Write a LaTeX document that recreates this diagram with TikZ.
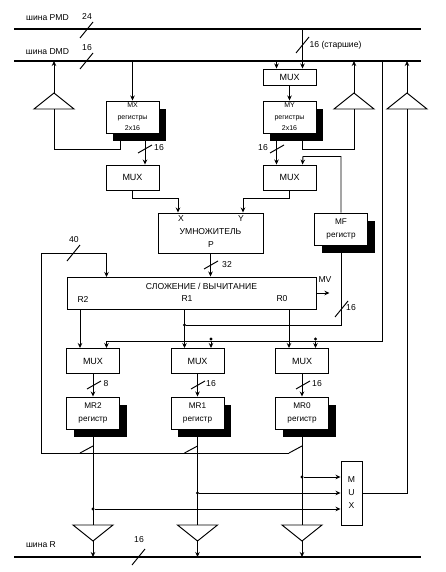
\documentclass[tikz,border=0pt]{standalone}
\usepackage{fontspec}
\setmainfont{Liberation Sans}
\usetikzlibrary{arrows.meta,shadows}

\tikzset{
  >={Stealth[length=5pt,width=4.5pt]},
  wire/.style={line width=.95pt},
  busline/.style={line width=2pt},
  slashmark/.style={line width=.95pt},
  muxbox/.style={draw,line width=.95pt,fill=white,inner sep=0pt,minimum width=53,minimum height=25,font=\fontsize{9}{10}\selectfont},
  regbox/.style={draw,line width=.95pt,fill=white,inner sep=0pt,minimum width=53,minimum height=32,align=center,
    general shadow={fill=black,shadow xshift=7pt,shadow yshift=-8pt}},
  lab/.style={inner sep=0pt,font=\fontsize{8.6}{10}\selectfont},
  dotmark/.style={circle,fill=black,inner sep=0pt,minimum size=3.4pt},
}

\begin{document}
\begin{tikzpicture}[x=1pt,y=-1pt]
  \useasboundingbox (0,0) rectangle (445,572);
  \coordinate (pmdL) at (14,29);
  \coordinate (pmdR) at (421,29);
  \coordinate (dmdL) at (14,61);
  \coordinate (dmdR) at (421,61);
  \coordinate (busrL) at (14,557);
  \coordinate (busrR) at (421,557);
  \draw[busline] (pmdL) -- (pmdR);
  \draw[busline] (dmdL) -- (dmdR);
  \draw[busline] (busrL) -- (busrR);

  % registers
  \foreach \name/\x/\y/\first/\second in {mx/132.5/117/MX/регистры,my/289.5/117/MY/регистры} {
    \node[regbox,font=\fontsize{7}{11.5}\selectfont] (\name) at (\x,\y) {\first\\\second\\2x16};
  }
  \foreach \name/\x/\y/\first in {mf/341/229/MF,mrtwo/93/413/MR2,mrone/197.5/413/MR1,mrzero/302/413/MR0} {
    \node[regbox,font=\fontsize{8.2}{13}\selectfont] (\name) at (\x,\y) {\first\\регистр};
  }

  % mux
  \node[muxbox,minimum height=16] (muxtop) at (289.5,77) {MUX};
  \foreach \name/\x/\y in {muxx/132.5/177.5,muxy/289.5/177.5,muxa/93/361,muxb/197.5/361,muxc/302/361} {
    \node[muxbox] (\name) at (\x,\y) {MUX};
  }
  \node[draw,line width=.95pt,fill=white,inner sep=0pt,minimum width=21,minimum height=64,align=center,
    font=\fontsize{8.6}{13}\selectfont] (muxout) at (351.5,493) {M\\U\\X};

  % multiplier and adder
  \node[draw,line width=.95pt,inner sep=0pt,minimum width=105,minimum height=40] (mult) at (210.5,233) {};
  \node[draw,line width=.95pt,inner sep=0pt,minimum width=249,minimum height=32] (addsub) at (191.5,293) {};
  \foreach \name/\x/\y/\txt in {lx/181/219/X,ly/241/219/Y,lmul/210.5/232/УМНОЖИТЕЛЬ,lp/211/245/P,
    lrtwo/83/299/R2,lrone/187/299/R1,lrzero/282/299/R0,lmv/325/280/MV,
    lpmd/47.5/17.5/шина PMD,ldmd/47.5/52/шина DMD,lbusr/41/544.5/шина R,
    ltf/87/16/24,lsa/87/48/16,lsb/335.5/45/16 (старшие),lsc/159/148/16,lsd/263/148/16,
    lse/227/265/32,lsf/74/240/40,lsg/351/308/16,lsh/106/384/8,lsi/211/384/16,lsj/317/384/16,lsk/139/540/16} {
    \node[lab] (\name) at (\x,\y) {\txt};
  }
  \node[lab] (lsum) at (201.5,286) {СЛОЖЕНИЕ / ВЫЧИТАНИЕ};

  % tristate buffers
  \foreach \name/\x in {upa/54,upb/354,upc/407} {
    \coordinate (\name) at (\x,93);
    \coordinate (\name-base) at (\x,109);
    \draw[wire] (\name) -- ++(20,16) -- ++(-40,0) -- cycle;
  }
  \foreach \name/\x in {dna/93,dnb/197.5,dnc/302} {
    \coordinate (\name) at (\x,541);
    \coordinate (\name-base) at (\x,525);
    \draw[wire] (\name) -- ++(20,-16) -- ++(-40,0) -- cycle;
  }
  \draw[wire,->] (upa) -- (upa |- dmdL);
  \draw[wire,->] (upb) -- (upb |- dmdL);
  \draw[wire,->] (upc) -- (upc |- dmdL);
  \foreach \name in {dna,dnb,dnc} {
    \draw[wire,->] (\name) -- (\name |- busrL);
  }

  % top part
  \draw[wire,->] (mx.north |- dmdL) -- (mx.north);
  \draw[wire] ([xshift=-12.5pt]mx.south) -- ++(0,16) -| (upa-base);
  \draw[wire,->] ([xshift=12.5pt]mx.south) -- ([xshift=12.5pt]muxx.north);
  \draw[wire,->] ([xshift=-13pt]muxtop.north |- dmdL) -- ([xshift=-13pt]muxtop.north);
  \draw[wire,->] ([xshift=13pt]muxtop.north |- pmdL) -- ([xshift=13pt]muxtop.north);
  \draw[wire,->] (muxtop) -- (my);
  \draw[wire] ([xshift=13pt]my.south) -- ++(0,16) -| (upb-base);
  \draw[wire,->] ([xshift=-13pt]my.south) -- ([xshift=-13pt]muxy.north);
  \draw[wire,->] (mf.north) |- ++(-38,-56) -- ([xshift=13pt]muxy.north);
  \draw[wire,->] (muxx.south) -- ++(0,8) -| ([xshift=-32.5pt]mult.north);
  \draw[wire,->] (muxy.south) -- ++(0,8) -| ([xshift=32.5pt]mult.north);
  \draw[wire,->] (mult.south) -- (mult.south |- addsub.north);
  \draw[wire,->] (addsub.east |- 0,293) -- ++(13,0);

  % adder outputs
  \node[dotmark] (dotrone) at (184.5,325) {};
  \draw[wire,->] ([xshift=-13pt]addsub.south -| muxa) -- ([xshift=-13pt]muxa.north);
  \draw[wire,->] ([xshift=-13pt]addsub.south -| muxb) -- ([xshift=-13pt]muxb.north);
  \draw[wire,->] ([xshift=-13pt]addsub.south -| muxc) -- ([xshift=-13pt]muxc.north);
  \draw[wire] (mf.south) |- (dotrone);

  % return from the dmd bus
  \coordinate (retbus) at (382,61);
  \coordinate (retcorner) at (382,341);
  \draw[wire,->] (retbus) -- (retcorner) -- (106.5,341) -- ([xshift=13.5pt]muxa.north);
  \foreach \name/\mux in {dota/muxb,dotb/muxc} {
    \node[dotmark] (\name) at ([xshift=13.5pt,yshift=9pt]\mux.north) {};
    \draw[wire,->] (\name) -- ([xshift=13.5pt]\mux.north);
  }

  % loop of 40 lines
  \coordinate (looptop) at (41.5,253);
  \coordinate (loopbot) at (41.5,453);
  \coordinate (loopend) at (289,453);
  \draw[wire,->] (loopend) -- (loopbot) -- (looptop) -| (106.5,277);
  \draw[wire] (loopend) -- ++(13,-7);
  \draw[wire] (80,453) -- ++(13,-7);
  \draw[wire] (184.5,453) -- ++(13,-7);

  % mr registers
  \draw[wire,->] (muxa) -- (mrtwo);
  \draw[wire,->] (muxb) -- (mrone);
  \draw[wire,->] (muxc) -- (mrzero);
  \draw[wire] (mrtwo.south) -- (dna-base);
  \draw[wire] (mrone.south) -- (dnb-base);
  \draw[wire] (mrzero.south) -- (dnc-base);
  \foreach \name/\src/\y in {dotc/mrzero/477,dotd/mrone/493,dote/mrtwo/509} {
    \node[dotmark] (\name) at (\src |- 0,\y) {};
    \draw[wire,->] (\name) -- (\name -| muxout.west);
  }
  \draw[wire] (muxout.east) -| (upc-base);

  % width marks
  \foreach \x/\y in {80/38,80/69,296/53,67/261,335/317,132/565} {
    \draw[slashmark] (\x,\y) -- ++(13,-16);
  }
  \foreach \x/\y in {138/153,270/153,204/269,87/389,191/389,296/389} {
    \draw[slashmark] (\x,\y) -- ++(14,-8);
  }
\end{tikzpicture}
\end{document}
